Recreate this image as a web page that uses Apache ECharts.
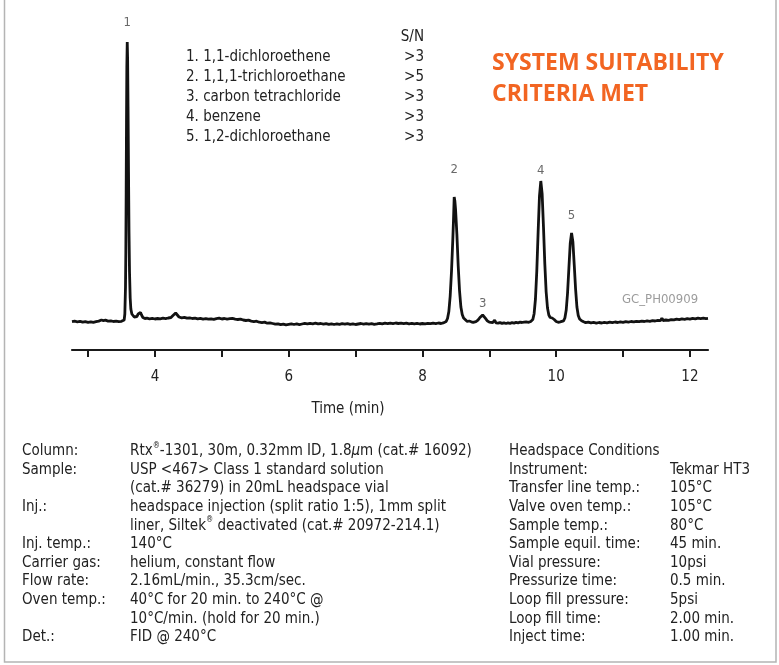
<!DOCTYPE html>
<html>
<head>
<meta charset="utf-8">
<title>USP 467 Class 1 headspace GC</title>
<script src="https://cdn.jsdelivr.net/npm/echarts@6/dist/echarts.min.js"></script>
<style>
  html, body { margin: 0; padding: 0; background: #ffffff; }
  #chart { width: 779px; height: 665px; }
</style>
</head>
<body>
<div id="chart"></div>
<script>
// ---- peak table ----
const peakNumbers = ['1', '2', '3', '4', '5'];
const compoundNames = ['1,1-dichloroethene', '1,1,1-trichloroethane', 'carbon tetrachloride', 'benzene', '1,2-dichloroethane'];
const signalToNoise = ['>3', '>5', '>3', '>3', '>3'];
const peakTimes = [3.586, 8.475, 8.90, 9.77, 10.23];     // retention time, min
const peakHeights = [280, 125, 7, 141, 89];              // detector response at apex

// ---- axis ticks ----
const tickMinutes = [3, 4, 5, 6, 7, 8, 9, 10, 11, 12];
const labelMinutes = [4, 6, 8, 10, 12];

// ---- FID trace, [time (min), response] ----
const traceLeadIn = [
  [2.76, 0.3], [2.80, 0.8], [2.84, 0.2], [2.88, 0.6], [2.92, -0.2], [2.96, 0.4], [3.00, -0.3],
  [3.04, 0.2], [3.08, -0.4], [3.12, 0.3], [3.16, 0.9], [3.20, 2.0], [3.23, 1.4], [3.26, 1.8],
  [3.30, 0.9], [3.34, 1.2], [3.38, 0.5], [3.42, 0.9], [3.46, 0.4], [3.50, 0.7], [3.52, 1.0]
];
const tracePeak1 = [
  [3.54, 2], [3.55, 8], [3.56, 35], [3.565, 70], [3.57, 130], [3.575, 200], [3.58, 255],
  [3.586, 280], [3.592, 262], [3.598, 215], [3.605, 150], [3.612, 92], [3.62, 50], [3.63, 24],
  [3.64, 13], [3.655, 8], [3.67, 6], [3.69, 5]
];
const traceMidBaseline = [
  [3.71, 4.5], [3.73, 5.5], [3.75, 8], [3.77, 10], [3.785, 9.5], [3.80, 7], [3.82, 4.5],
  [3.85, 3.5], [3.88, 3.8], [3.92, 3.2], [3.96, 3.6], [4.00, 3.0], [4.04, 3.5], [4.08, 3.2],
  [4.12, 3.8], [4.16, 3.4], [4.20, 4.0], [4.24, 4.5], [4.27, 6.5], [4.29, 8.5], [4.31, 9],
  [4.33, 7], [4.36, 5], [4.40, 4.2], [4.44, 4.6], [4.48, 3.8], [4.52, 4.2], [4.56, 3.5],
  [4.60, 3.9], [4.64, 3.2], [4.68, 3.6], [4.72, 2.9], [4.76, 3.4], [4.80, 2.8], [4.84, 3.2],
  [4.88, 2.6], [4.92, 3.4], [4.96, 3.8], [5.00, 3.0], [5.04, 3.5], [5.08, 2.8], [5.12, 3.3],
  [5.16, 3.6], [5.20, 2.9], [5.24, 2.5], [5.28, 2.9], [5.32, 2.0], [5.36, 1.5], [5.40, 1.8],
  [5.44, 0.9], [5.48, 0.4], [5.52, 0.8], [5.56, -0.2], [5.60, -0.6], [5.64, -0.1], [5.68, -1.2],
  [5.72, -0.8], [5.76, -1.5], [5.80, -2.2], [5.84, -1.8], [5.88, -2.6], [5.92, -2.1], [5.96, -2.8],
  [6.00, -2.3], [6.04, -1.8], [6.08, -2.5], [6.12, -1.9], [6.16, -2.6], [6.20, -2.0], [6.24, -1.4],
  [6.28, -1.9], [6.32, -1.3], [6.36, -1.8], [6.40, -1.2], [6.44, -1.9], [6.48, -1.5], [6.52, -2.2],
  [6.56, -1.6], [6.60, -2.3], [6.64, -1.8], [6.68, -2.5], [6.72, -1.9], [6.76, -2.4], [6.80, -1.7],
  [6.84, -2.2], [6.88, -1.6], [6.92, -2.3], [6.96, -1.8], [7.00, -2.5], [7.04, -2.0], [7.08, -1.5],
  [7.12, -2.1], [7.16, -1.6], [7.20, -2.2], [7.24, -1.7], [7.28, -2.4], [7.32, -1.9], [7.36, -1.3],
  [7.40, -1.8], [7.44, -1.2], [7.48, -1.7], [7.52, -1.1], [7.56, -1.6], [7.60, -1.0], [7.64, -1.5],
  [7.68, -1.1], [7.72, -1.7], [7.76, -1.2], [7.80, -1.8], [7.84, -1.3], [7.88, -1.9], [7.92, -1.4],
  [7.96, -2.0], [8.00, -1.5], [8.04, -1.9], [8.08, -1.3], [8.12, -1.7], [8.16, -1.1], [8.20, -1.6],
  [8.24, -1.0], [8.28, -1.5], [8.31, -0.9], [8.335, -0.5]
];
const tracePeaks2and3 = [
  [8.355, 0.6], [8.375, 3.5], [8.395, 10.5], [8.415, 26], [8.435, 51], [8.455, 84], [8.465, 103],
  [8.475, 125], [8.485, 121], [8.495, 113], [8.515, 88], [8.535, 56], [8.555, 31], [8.575, 15],
  [8.595, 7.5], [8.615, 4], [8.64, 2], [8.67, 0.5], [8.70, 1.0], [8.73, 0.2], [8.76, -0.4],
  [8.80, 0.3], [8.83, 1.8], [8.86, 4.5], [8.885, 6.5], [8.90, 7], [8.915, 6.2], [8.94, 3.8],
  [8.97, 1.2], [9.00, -0.2], [9.02, 0.6], [9.05, -0.6], [9.08, 1.8], [9.10, -0.8], [9.13, -1.2],
  [9.16, -0.6], [9.19, -1.4], [9.22, -0.8], [9.25, -1.5], [9.28, -0.9], [9.31, -1.3], [9.34, -0.7],
  [9.37, -1.1], [9.40, -0.4], [9.43, -0.8], [9.46, -0.2], [9.49, -0.5], [9.52, -0.1]
];
const tracePeaks4and5 = [
  [9.55, 0.2], [9.59, -0.3], [9.62, 0.5], [9.65, 2.4], [9.67, 8.3], [9.69, 23], [9.71, 51],
  [9.73, 90], [9.75, 126], [9.77, 141], [9.79, 128], [9.81, 95], [9.83, 58], [9.85, 30],
  [9.87, 14], [9.89, 7], [9.91, 4.5], [9.94, 4], [9.97, 2.5], [10.00, 0.5], [10.03, -0.3],
  [10.06, 0.2], [10.08, 0.5], [10.11, 1.2], [10.13, 4], [10.15, 12], [10.17, 29], [10.19, 54],
  [10.21, 78.5], [10.23, 89], [10.25, 80], [10.27, 57], [10.29, 33], [10.31, 15], [10.33, 6.5],
  [10.35, 3], [10.38, 1.2], [10.41, 0.2]
];
const traceTail = [
  [10.44, -0.6], [10.48, -0.1], [10.52, -0.9], [10.56, -0.4], [10.60, -1.1], [10.64, -0.5],
  [10.68, -1.0], [10.72, -0.3], [10.76, -0.8], [10.80, -0.2], [10.84, -0.7], [10.88, 0.0],
  [10.92, -0.5], [10.96, 0.2], [11.00, -0.3], [11.04, 0.4], [11.08, -0.1], [11.12, 0.5],
  [11.16, 0.1], [11.20, 0.7], [11.24, 0.3], [11.28, 0.9], [11.32, 0.5], [11.36, 1.1],
  [11.40, 0.7], [11.44, 1.3], [11.48, 1.0], [11.52, 1.6], [11.56, 1.3], [11.58, 3.8],
  [11.60, 1.5], [11.64, 2.0], [11.68, 1.7], [11.72, 2.4], [11.76, 2.1], [11.80, 2.8],
  [11.84, 2.4], [11.88, 3.1], [11.92, 2.7], [11.96, 3.4], [12.00, 2.9], [12.04, 3.6],
  [12.08, 3.2], [12.12, 3.9], [12.16, 3.4], [12.20, 3.8], [12.24, 3.3], [12.27, 3.6]
];

// ---- method conditions ----
const gcConditions = [
  ['Column:', 'Rtx{sup|®}-1301, 30m, 0.32mm ID, 1.8{it|µ}m (cat.# 16092)'],
  ['Sample:', 'USP <467> Class 1 standard solution'],
  ['', '(cat.# 36279) in 20mL headspace vial'],
  ['Inj.:', 'headspace injection (split ratio 1:5), 1mm split'],
  ['', 'liner, Siltek{sup|®} deactivated (cat.# 20972-214.1)'],
  ['Inj. temp.:', '140°C'],
  ['Carrier gas:', 'helium, constant flow'],
  ['Flow rate:', '2.16mL/min., 35.3cm/sec.'],
  ['Oven temp.:', '40°C for 20 min. to 240°C @'],
  ['', '10°C/min. (hold for 20 min.)'],
  ['Det.:', 'FID @ 240°C']
];
const headspaceConditions = [
  ['Headspace Conditions', ''],
  ['Instrument:', 'Tekmar HT3'],
  ['Transfer line temp.:', '105°C'],
  ['Valve oven temp.:', '105°C'],
  ['Sample temp.:', '80°C'],
  ['Sample equil. time:', '45 min.'],
  ['Vial pressure:', '10psi'],
  ['Pressurize time:', '0.5 min.'],
  ['Loop fill pressure:', '5psi'],
  ['Loop fill time:', '2.00 min.'],
  ['Inject time:', '1.00 min.']
];

const chartCode = 'GC_PH00909';
const headline = ['SYSTEM SUITABILITY', 'CRITERIA MET'];

// ---- drawing ----
const FONT = '"DejaVu Sans Condensed", "Liberation Sans Narrow", sans-serif';
const INK = '#222222';
const trace = [].concat(traceLeadIn, tracePeak1, traceMidBaseline, tracePeaks2and3, tracePeaks4and5, traceTail);
const labelGaps = [13, 21, 5, 4, 11];

const chart = echarts.init(document.getElementById('chart'), null, { renderer: 'canvas' });

const richBits = {
  sup: { fontSize: 8, fontFamily: FONT, color: INK, verticalAlign: 'top', lineHeight: 12 },
  it: { fontSize: 15, fontFamily: FONT, color: INK, fontStyle: 'italic' }
};

function textColumn(lines, x, y, align) {
  return {
    type: 'text', left: x, top: y, silent: true,
    style: {
      text: lines.join('\n'), fill: INK, font: '15px ' + FONT,
      lineHeight: 18.6, align: align || 'left', rich: richBits
    }
  };
}

const graphics = [
  // outer frame
  { type: 'rect', silent: true, shape: { x: 4.5, y: -10, width: 771.5, height: 672 },
    style: { fill: null, stroke: '#b4b4b4', lineWidth: 1.5 } },
  // S/N header
  { type: 'text', silent: true, x: 424, y: 37,
    style: { text: 'S/N', fill: INK, font: '15px ' + FONT, align: 'right', verticalAlign: 'middle' } },
  // headline
  { type: 'text', silent: true, x: 492, y: 48,
    style: { text: headline.join('\n'), fill: '#f26522', font: 'bold 23px "Open Sans", sans-serif',
      lineHeight: 31, verticalAlign: 'top' } },
  // chart code
  { type: 'text', silent: true, x: 622, y: 300,
    style: { text: chartCode, fill: '#9c9c9c', font: '13px ' + FONT, verticalAlign: 'middle' } }
];

peakNumbers.forEach(function (n, i) {
  graphics.push({ type: 'text', silent: true, x: 186, y: 57 + i * 20,
    style: { text: n + '. ' + compoundNames[i], fill: INK, font: '15px ' + FONT, verticalAlign: 'middle' } });
  graphics.push({ type: 'text', silent: true, x: 424, y: 57 + i * 20,
    style: { text: signalToNoise[i], fill: INK, font: '15px ' + FONT, align: 'right', verticalAlign: 'middle' } });
});

graphics.push(textColumn(gcConditions.map(r => r[0]), 22, 442));
graphics.push(textColumn(gcConditions.map(r => r[1]), 130, 442));
graphics.push(textColumn(headspaceConditions.map(r => r[0]), 509, 442));
graphics.push(textColumn(headspaceConditions.map(r => r[1]), 670, 442));

chart.setOption({
  animation: false,
  backgroundColor: '#ffffff',
  grid: { left: 72, right: 71, top: 40, bottom: 315 },
  xAxis: {
    type: 'value', min: 2.76, max: 12.27,
    axisLine: { show: true, onZero: false, lineStyle: { color: '#1a1a1a', width: 2.2 } },
    axisTick: { show: true, length: 7, lineStyle: { color: '#1a1a1a', width: 2 }, customValues: tickMinutes },
    axisLabel: { customValues: labelMinutes, margin: 20, fontSize: 15, color: INK, fontFamily: FONT },
    splitLine: { show: false },
    name: 'Time (min)', nameLocation: 'middle', nameGap: 52,
    nameTextStyle: { fontSize: 15, color: INK, fontFamily: FONT, padding: [0, 84, 0, 0] }
  },
  yAxis: { type: 'value', min: -28, max: 282, show: false },
  series: [
    {
      type: 'line', data: trace, symbol: 'none', silent: true,
      lineStyle: { color: '#121212', width: 2.8 }, z: 2
    },
    {
      type: 'scatter', symbolSize: 0, silent: true, z: 3,
      data: peakTimes.map(function (t, i) {
        return { value: [t, peakHeights[i]], label: { distance: labelGaps[i] } };
      }),
      label: {
        show: true, position: 'top',
        formatter: function (p) { return peakNumbers[p.dataIndex]; },
        fontSize: 13, color: '#444444', fontFamily: FONT
      }
    }
  ],
  graphic: graphics
});
</script>
</body>
</html>
